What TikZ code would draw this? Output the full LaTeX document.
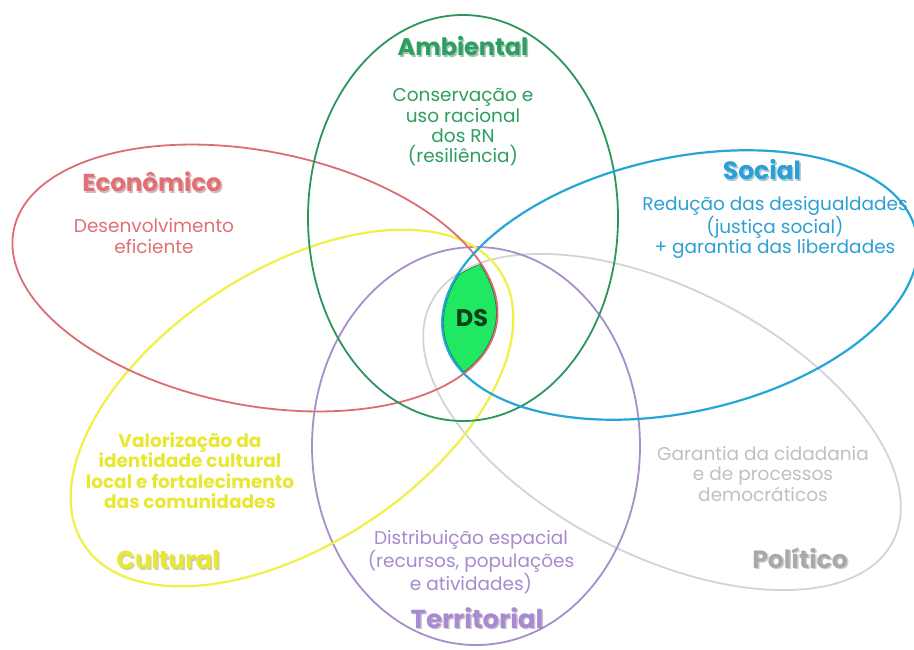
\documentclass[tikz,border=0pt]{standalone}
\usepackage{fontspec}
\setmainfont{Poppins}
\definecolor{cRed}{RGB}{222,108,116}
\definecolor{cGreen}{RGB}{42,150,92}
\definecolor{cBlue}{RGB}{38,166,214}
\definecolor{cYellow}{RGB}{240,240,70}
\definecolor{cPurple}{RGB}{168,142,202}
\definecolor{cGray}{RGB}{212,212,212}
\definecolor{tRed}{RGB}{224,112,118}
\definecolor{tGreen}{RGB}{44,158,96}
\definecolor{tBlue}{RGB}{44,160,212}
\definecolor{tYellow}{RGB}{232,232,52}
\definecolor{tPurple}{RGB}{168,138,206}
\definecolor{tGray}{RGB}{192,192,192}
\definecolor{dsFill}{RGB}{32,232,98}
\definecolor{dsText}{RGB}{14,62,26}
\definecolor{dsEdge}{RGB}{20,110,50}
\tikzset{
  ring/.style={line width=1.8pt},
  bodytext/.style={align=center, inner sep=0pt, font=\fontsize{18.5}{20.4}\selectfont},
  titletext/.style={inner sep=0pt, font=\fontsize{24}{28}\bfseries\selectfont},
  shadowtext/.style={titletext, opacity=0.4},
  eR/.style={rotate around={-11.2:(255,278)}},
  eB/.style={rotate around={12.6:(680,285)}},
  eY/.style={rotate around={33.3:(292,408)}},
  eG/.style={rotate around={-27.4:(662,422)}},
}
\begin{document}
\begin{tikzpicture}[x=1pt,y=-1pt]
\useasboundingbox (0,0) rectangle (914,649);
\fill[white] (0,0) rectangle (914,649);
% DS region: intersection of all six ellipses
\begin{scope}
  \clip[eB] (680,285) ellipse [x radius=242pt, y radius=127pt];
  \clip[eR] (255,278) ellipse [x radius=246pt, y radius=127pt];
  \clip[eG] (662,422) ellipse [x radius=260pt, y radius=133pt];
  \clip[eY] (292,408) ellipse [x radius=249pt, y radius=137pt];
  \clip (463,218) ellipse [x radius=155pt, y radius=203pt];
  \clip (476,446) ellipse [x radius=164pt, y radius=199pt];
  \fill[dsFill] (0,0) rectangle (914,649);
  \draw[dsEdge, line width=3pt, eB] (680,285) ellipse [x radius=242pt, y radius=127pt];
  \draw[dsEdge, line width=3pt, eR] (255,278) ellipse [x radius=246pt, y radius=127pt];
  \draw[dsEdge, line width=3pt, eG] (662,422) ellipse [x radius=260pt, y radius=133pt];
\end{scope}
% ellipses
\draw[ring, cGray, eG] (662,422) ellipse [x radius=260pt, y radius=133pt];
\draw[ring, cPurple] (476,446) ellipse [x radius=164pt, y radius=199pt];
\draw[ring, cYellow, line width=2.2pt, eY] (292,408) ellipse [x radius=249pt, y radius=137pt];
\draw[ring, cRed, eR] (255,278) ellipse [x radius=246pt, y radius=127pt];
\draw[ring, cGreen] (463,218) ellipse [x radius=155pt, y radius=203pt];
\draw[ring, cBlue, line width=2.2pt, eB] (680,285) ellipse [x radius=242pt, y radius=127pt];
% titles with soft shadows
\node[shadowtext, text=tGreen!70!black] (ambS) at (464.5,47.5) {Ambiental};
\node[titletext, text=tGreen] (amb) at (463,46) {Ambiental};
\node[shadowtext, text=tRed!70!black, font=\fontsize{24.5}{28}\bfseries\selectfont] (ecoS) at (153.5,183.5) {Econômico};
\node[titletext, text=tRed, font=\fontsize{24.5}{28}\bfseries\selectfont] (eco) at (152,182) {Econômico};
\node[shadowtext, text=tBlue!70!black, font=\fontsize{25}{28}\bfseries\selectfont] (socS) at (763.5,171.5) {Social};
\node[titletext, text=tBlue, font=\fontsize{25}{28}\bfseries\selectfont] (soc) at (762,170) {Social};
\node[shadowtext, text=tYellow!60!black, font=\fontsize{24.5}{28}\bfseries\selectfont] (culS) at (169.5,561.5) {Cultural};
\node[titletext, text=tYellow, font=\fontsize{24.5}{28}\bfseries\selectfont] (cul) at (168,560) {Cultural};
\node[shadowtext, text=tPurple!70!black, font=\fontsize{26}{28}\bfseries\selectfont] (terS) at (478.5,619.5) {Territorial};
\node[titletext, text=tPurple, font=\fontsize{26}{28}\bfseries\selectfont] (ter) at (477,618) {Territorial};
\node[shadowtext, text=tGray!70!black, font=\fontsize{25}{28}\bfseries\selectfont] (polS) at (801.5,559.5) {Político};
\node[titletext, text=tGray!88!black, font=\fontsize{25}{28}\bfseries\selectfont] (pol) at (800,558) {Político};
% body texts
\node[bodytext, text=tGreen] (ambT) at (463,127.5) {Conservação e\\uso racional\\dos RN\\(resiliência)};
\node[bodytext, text=tRed] (ecoT) at (154,236) {Desenvolvimento\\eficiente};
\node[bodytext, text=tBlue] (socT) at (775,227.5) {Redução das desigualdades\\(justiça social)\\+ garantia das liberdades};
\node[bodytext, text=tYellow, font=\fontsize{18.5}{20.4}\bfseries\selectfont] (culT) at (190,470.5) {Valorização da\\identidade cultural\\local e fortalecimento\\das comunidades};
\node[bodytext, text=tPurple] (terT) at (471,562.5) {Distribuição espacial\\(recursos, populações\\e atividades)};
\node[bodytext, text=tGray] (polT) at (763,474) {Garantia da cidadania\\e de processos\\democráticos};
% DS
\node[titletext, text=dsText, font=\fontsize{24}{28}\bfseries\selectfont] (ds) at (472,318) {DS};
\end{tikzpicture}
\end{document}
